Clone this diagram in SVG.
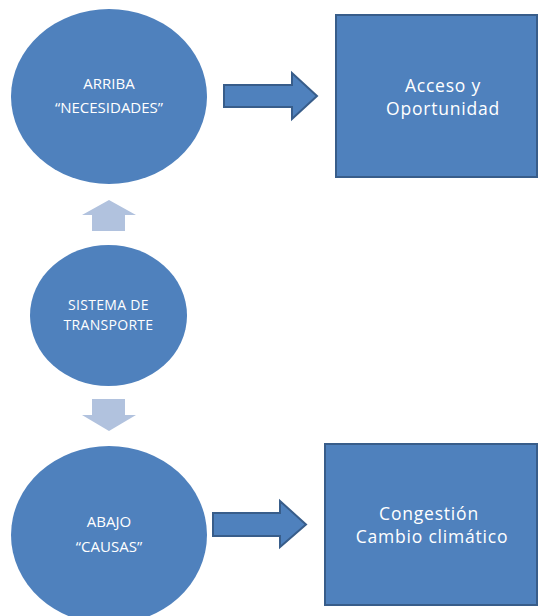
<svg xmlns="http://www.w3.org/2000/svg" width="538" height="616" viewBox="0 0 538 616">
<style>
.node{fill:#4f81bd}
.box{fill:#4f81bd;stroke:#385d8a;stroke-width:2}
.arr{fill:#4f81bd;stroke:#385d8a;stroke-width:2;stroke-linejoin:miter}
.light{fill:#b1c2de}
.t{font-family:"Open Sans","Liberation Sans",sans-serif;fill:#ffffff;text-anchor:middle}
.s{font-size:15px}
.m{font-size:14px;letter-spacing:0.3px}
.l{font-size:17.5px;letter-spacing:0.8px}
</style>
<rect width="538" height="616" fill="#ffffff"/>
<g id="connectors">
<polygon class="arr" points="224,85 292,85 292,73 317,96 292,119 292,107 224,107"/>
<polygon class="arr" points="213,513 280,513 280,501 306,524.5 280,547 280,536 213,536"/>
<polygon class="light" points="92,231 92,215 82,215 109,200 136,215 125,215 125,231"/>
<polygon class="light" points="92,399 125,399 125,415 136,415 109,431 82,415 92,415"/>
</g>
<g id="arriba">
<ellipse class="node" cx="109" cy="96.5" rx="98" ry="87.5"/>
<text class="t s" x="109" y="89">ARRIBA</text>
<text class="t s" x="109" y="113">“NECESIDADES”</text>
</g>
<g id="acceso">
<rect class="box" x="336" y="15" width="201" height="162"/>
<text class="t l" x="443" y="92">Acceso y</text>
<text class="t l" x="443" y="115">Oportunidad</text>
</g>
<g id="sistema">
<ellipse class="node" cx="108.5" cy="315.5" rx="78.5" ry="70.5"/>
<text class="t m" x="108.5" y="310">SISTEMA DE</text>
<text class="t m" x="108.5" y="329.5">TRANSPORTE</text>
</g>
<g id="abajo">
<ellipse class="node" cx="109" cy="535" rx="98" ry="89"/>
<text class="t s" x="109" y="527">ABAJO</text>
<text class="t s" x="109" y="552">“CAUSAS”</text>
</g>
<g id="congestion">
<rect class="box" x="325" y="444" width="212" height="161"/>
<text class="t l" x="429" y="520">Congestión</text>
<text class="t l" x="432" y="543">Cambio climático</text>
</g>
</svg>
